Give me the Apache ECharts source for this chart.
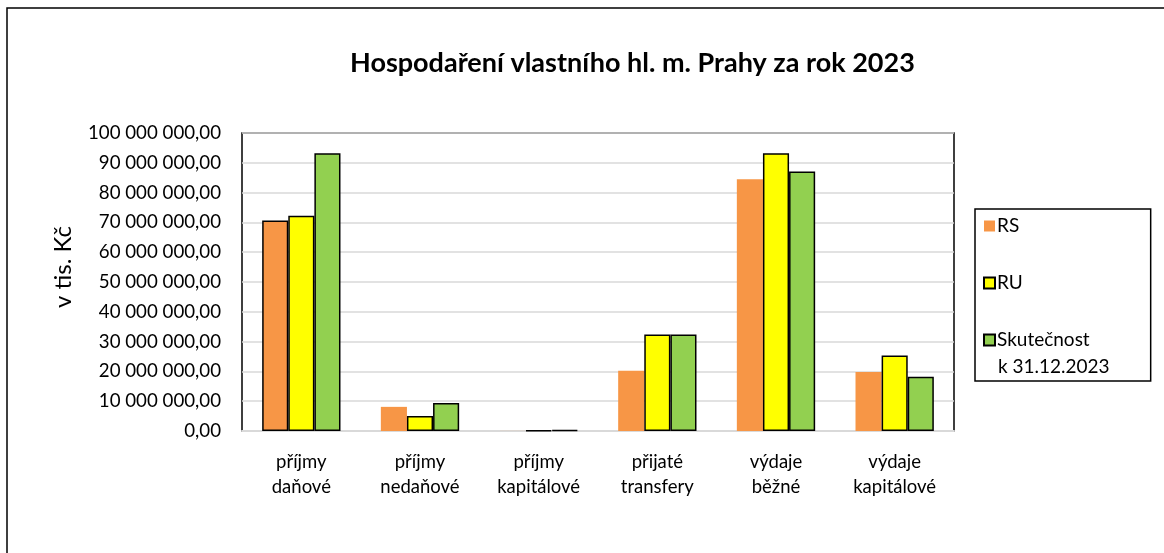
<!DOCTYPE html>
<html>
<head>
<meta charset="utf-8">
<script src="https://cdn.jsdelivr.net/npm/echarts@6/dist/echarts.min.js"></script>
<style>
  html, body { margin: 0; padding: 0; background: #fff; }
  #chart { width: 1164px; height: 553px; }
</style>
</head>
<body>
<div id="chart"></div>
<script>
// categories and values (v tis. Kč)
const categories = ['příjmy\ndaňové', 'příjmy\nnedaňové', 'příjmy\nkapitálové', 'přijaté\ntransfery', 'výdaje\nběžné', 'výdaje\nkapitálové'];
const seriesNames = ['RS', 'RU', 'Skutečnost k 31.12.2023'];
const rsValues = [70600000, 8100000, 20000, 20200000, 84500000, 19800000];
const ruValues = [72200000, 5000000, 250000, 32400000, 93200000, 25300000];
const skutValues = [93200000, 9400000, 300000, 32400000, 87100000, 18200000];
const yTicks = { min: 0, max: 100000000, interval: 10000000 };

const font = 'Lato, "Open Sans", sans-serif';

function czNumber(v) {
  const parts = Number(v).toFixed(2).split('.');
  const intPart = parts[0].replace(/\B(?=(\d{3})+(?!\d))/g, ' ');
  return intPart + ',' + parts[1];
}

const chart = echarts.init(document.getElementById('chart'));

const option = {
  backgroundColor: '#fff',
  animation: false,
  textStyle: { fontFamily: font, color: '#000' },
  title: {
    text: 'Hospodaření vlastního hl. m. Prahy za rok 2023',
    left: 345,
    top: 45,
    textStyle: { fontFamily: font, fontSize: 27, fontWeight: 'bold', color: '#000' }
  },
  graphic: [
    {
      type: 'rect',
      shape: { x: 7, y: 8, width: 1300, height: 700 },
      style: { fill: null, stroke: '#000', lineWidth: 1.5 },
      silent: true
    },
    {
      // second line of the last legend entry
      type: 'text',
      left: 998,
      top: 357,
      style: { text: 'k 31.12.2023', font: '19px ' + font, fill: '#000' },
      silent: true
    }
  ],
  grid: {
    left: 242,
    top: 133,
    right: 210,
    bottom: 122,
    show: true,
    borderColor: '#000',
    borderWidth: 1.5
  },
  legend: {
    orient: 'vertical',
    left: 975,
    top: 209,
    padding: [6, 61, 30, 8],
    itemGap: 35,
    itemWidth: 11,
    itemHeight: 11,
    icon: 'rect',
    borderColor: '#000',
    borderWidth: 1.5,
    selectedMode: false,
    formatter: function (name) {
      return name === seriesNames[2] ? 'Skutečnost' : name;
    },
    textStyle: { fontFamily: font, fontSize: 19, lineHeight: 22, color: '#000', padding: [0, 0, 0, -3] },
    data: seriesNames
  },
  xAxis: {
    type: 'category',
    data: categories,
    axisLine: { lineStyle: { color: '#d9d9d9', width: 2 } },
    axisTick: { show: false },
    axisLabel: { fontFamily: font, fontSize: 18.5, lineHeight: 25, color: '#000', margin: 19 }
  },
  yAxis: {
    type: 'value',
    min: yTicks.min,
    max: yTicks.max,
    interval: yTicks.interval,
    name: 'v tis. Kč',
    nameLocation: 'middle',
    nameRotate: 90,
    nameGap: 167,
    nameTextStyle: { fontFamily: font, fontSize: 24, color: '#000', padding: [0, 0, 0, 30] },
    axisLine: { show: false },
    axisTick: { show: false },
    axisLabel: { fontFamily: font, fontSize: 18.7, color: '#000', margin: 21, formatter: czNumber },
    splitLine: { lineStyle: { color: '#d9d9d9', width: 1.5 } }
  },
  series: [
    {
      name: seriesNames[0],
      type: 'bar',
      barGap: '0%',
      barCategoryGap: '34%',
      itemStyle: { color: '#F79646' },
      data: rsValues.map(function (v, i) {
        // first point has an outline in the original
        return i === 0 ? { value: v, itemStyle: { borderColor: '#000', borderWidth: 1.5 } } : v;
      })
    },
    {
      name: seriesNames[1],
      type: 'bar',
      barGap: '0%',
      barCategoryGap: '34%',
      itemStyle: { color: '#FFFF00', borderColor: '#000', borderWidth: 1.5 },
      data: ruValues
    },
    {
      name: seriesNames[2],
      type: 'bar',
      barGap: '0%',
      barCategoryGap: '34%',
      itemStyle: { color: '#92D050', borderColor: '#000', borderWidth: 1.5 },
      data: skutValues
    }
  ]
};

chart.setOption(option);
</script>
</body>
</html>
